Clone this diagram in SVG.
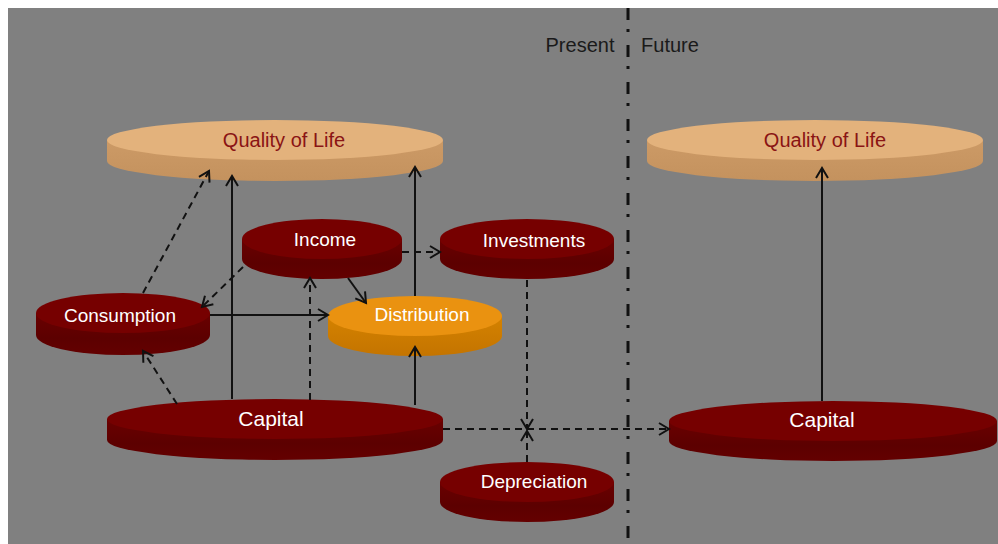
<svg xmlns="http://www.w3.org/2000/svg" width="998" height="544" viewBox="0 0 998 544">
<defs>
<style>
.lbl{font-family:"Liberation Sans",Arial,sans-serif;font-size:19px;fill:#fff;text-anchor:middle}
.qlbl{font-family:"Liberation Sans",Arial,sans-serif;font-size:20px;fill:#8a1414;text-anchor:middle}
.cap{font-size:21px}
.red .side{fill:url(#gRed)}
.red .top{fill:#760000}
.org .side{fill:url(#gOrg)}
.org .top{fill:#ea9210}
.tan .side{fill:url(#gTan)}
.tan .top{fill:#e3b27c}
.solid{stroke:#111;stroke-width:2;fill:none;marker-end:url(#ah)}
.dash{stroke:#111;stroke-width:2;fill:none;stroke-dasharray:7 5;marker-end:url(#ah)}
</style>
<linearGradient id="gRed" x1="0" y1="0" x2="0" y2="1">
<stop offset="0" stop-color="#6a0000"/><stop offset="0.6" stop-color="#5c0000"/><stop offset="1" stop-color="#640000"/>
</linearGradient>
<linearGradient id="gOrg" x1="0" y1="0" x2="0" y2="1">
<stop offset="0" stop-color="#d48200"/><stop offset="1" stop-color="#c47400"/>
</linearGradient>
<linearGradient id="gTan" x1="0" y1="0" x2="0" y2="1">
<stop offset="0" stop-color="#cc9a66"/><stop offset="1" stop-color="#c4925e"/>
</linearGradient>
<marker id="ah" markerUnits="userSpaceOnUse" markerWidth="16" markerHeight="16" refX="11" refY="7" orient="auto" viewBox="0 0 16 14">
<path d="M1,1 L11,7 L1,13" fill="none" stroke="#111" stroke-width="2"/>
</marker>
</defs>
<rect x="0" y="0" width="998" height="544" fill="#fff"/>
<rect x="8" y="8" width="990" height="536" fill="#808080"/>

<g id="divider">
<line x1="628" y1="8" x2="628" y2="544" stroke="#111" stroke-width="3" stroke-dasharray="12 9 3 13"/>
<text x="580" y="52" font-family="Liberation Sans, Arial, sans-serif" font-size="20" fill="#1a1a1a" text-anchor="middle">Present</text>
<text x="670" y="52" font-family="Liberation Sans, Arial, sans-serif" font-size="20" fill="#1a1a1a" text-anchor="middle">Future</text>
</g>

<g id="qol-present" class="tan">
<path class="side" d="M107,140 L107,161 A168,20 0 0 0 443,161 L443,140 Z"/>
<ellipse class="top" cx="275" cy="140" rx="168" ry="20"/>
<text class="qlbl" x="284" y="147">Quality of Life</text>
</g>
<g id="qol-future" class="tan">
<path class="side" d="M647,140 L647,161 A168,20 0 0 0 983,161 L983,140 Z"/>
<ellipse class="top" cx="815" cy="140" rx="168" ry="20"/>
<text class="qlbl" x="825" y="147">Quality of Life</text>
</g>
<g id="consumption" class="red">
<path class="side" d="M36,313 L36,335 A87,20 0 0 0 210,335 L210,313 Z"/>
<ellipse class="top" cx="123" cy="313" rx="87" ry="20"/>
<text class="lbl" x="120" y="322">Consumption</text>
</g>
<g id="income" class="red">
<path class="side" d="M242,239 L242,259 A80,20 0 0 0 402,259 L402,239 Z"/>
<ellipse class="top" cx="322" cy="239" rx="80" ry="20"/>
<text class="lbl" x="325" y="246">Income</text>
</g>
<g id="distribution" class="org">
<path class="side" d="M328,316 L328,336 A87,20 0 0 0 502,336 L502,316 Z"/>
<ellipse class="top" cx="415" cy="316" rx="87" ry="20"/>
<text class="lbl" x="422" y="321">Distribution</text>
</g>
<g id="investments" class="red">
<path class="side" d="M440,239 L440,259 A87,20 0 0 0 614,259 L614,239 Z"/>
<ellipse class="top" cx="527" cy="239" rx="87" ry="20"/>
<text class="lbl" x="534" y="247">Investments</text>
</g>
<g id="capital-present" class="red">
<path class="side" d="M107,419 L107,440 A168,20 0 0 0 443,440 L443,419 Z"/>
<ellipse class="top" cx="275" cy="419" rx="168" ry="20"/>
<text class="lbl cap" x="271" y="426">Capital</text>
</g>
<g id="depreciation" class="red">
<path class="side" d="M440,482 L440,502 A87,20 0 0 0 614,502 L614,482 Z"/>
<ellipse class="top" cx="527" cy="482" rx="87" ry="20"/>
<text class="lbl" x="534" y="488">Depreciation</text>
</g>
<g id="capital-future" class="red">
<path class="side" d="M669,421 L669,441 A164,20 0 0 0 997,441 L997,421 Z"/>
<ellipse class="top" cx="833" cy="421" rx="164" ry="20"/>
<text class="lbl cap" x="822" y="427">Capital</text>
</g>

<g id="connectors">
<path class="solid" d="M232,399 L232,176"/>
<path class="solid" d="M415,296 L415,167"/>
<path class="solid" d="M415,405 L415,347"/>
<path class="solid" d="M210,315 L328,315"/>
<path class="solid" d="M348,278 L366,303"/>
<path class="solid" d="M822,401 L822,168"/>
<path class="dash" d="M402,252 L440,252"/>
<path class="dash" d="M243,267 L202,307"/>
<path class="dash" d="M143,293 L209,171"/>
<path class="dash" d="M177,404 L143,351"/>
<path class="dash" d="M310,400 L310,278"/>
<path class="dash" d="M527,280 L527,429"/>
<path class="dash" d="M527,462 L527,431"/>
<path class="dash" d="M443,429 L669,429"/>
</g>
</svg>
